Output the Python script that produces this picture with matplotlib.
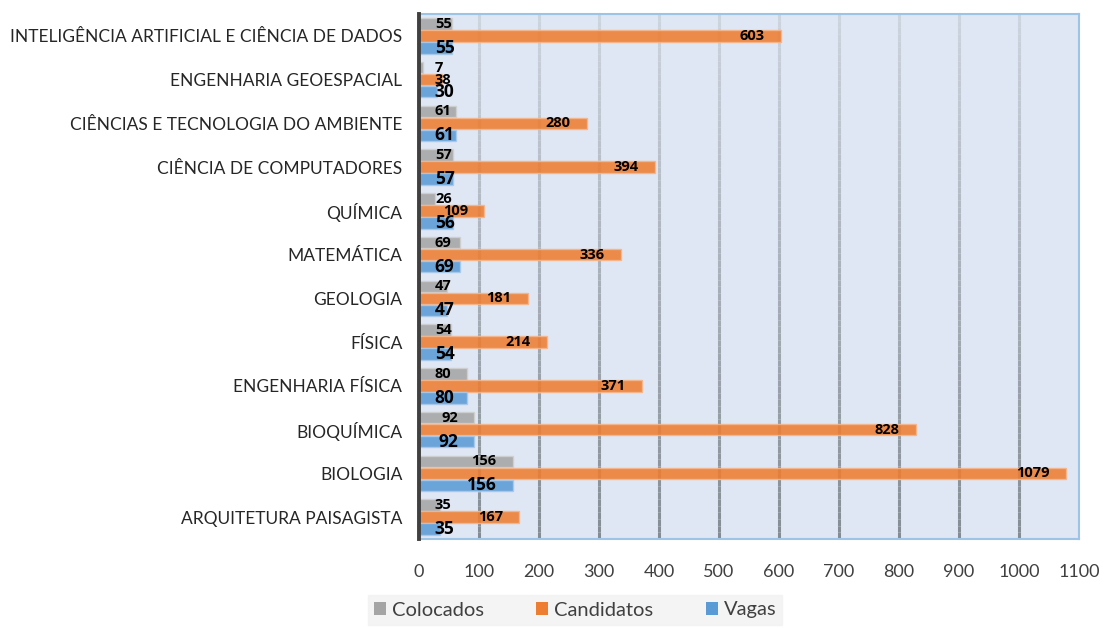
import numpy as np
import matplotlib
matplotlib.use("Agg")
import matplotlib.pyplot as plt
from matplotlib.collections import LineCollection
from matplotlib.patches import Patch

categories = [
    "INTELIGÊNCIA ARTIFICIAL E CIÊNCIA DE DADOS",
    "ENGENHARIA GEOESPACIAL",
    "CIÊNCIAS E TECNOLOGIA DO AMBIENTE",
    "CIÊNCIA DE COMPUTADORES",
    "QUÍMICA",
    "MATEMÁTICA",
    "GEOLOGIA",
    "FÍSICA",
    "ENGENHARIA FÍSICA",
    "BIOQUÍMICA",
    "BIOLOGIA",
    "ARQUITETURA PAISAGISTA",
]
colocados = [55, 7, 61, 57, 26, 69, 47, 54, 80, 92, 156, 35]
candidatos = [603, 38, 280, 394, 109, 336, 181, 214, 371, 828, 1079, 167]
vagas = [55, 30, 61, 57, 56, 69, 47, 54, 80, 92, 156, 35]
x_ticks = [0, 100, 200, 300, 400, 500, 600, 700, 800, 900, 1000, 1100]

FONT = ["Lato", "DejaVu Sans"]
plt.rcParams["font.family"] = FONT

W, H = 1105, 628
fig = plt.figure(figsize=(W / 100, H / 100), dpi=100)
ax = fig.add_axes([419 / W, 1 - 539 / H, 660 / W, 525 / H])
ax.set_facecolor("#dfe6f4")

n = len(categories)
y = np.arange(n)[::-1].astype(float)
bh = 0.26
off = 0.275

ax.set_xlim(0, 1100)
ax.set_ylim(-0.5, n - 0.5)

# gradient gridlines
for xv in x_ticks[1:-1]:
    ys = np.linspace(-0.5, n - 0.5, 80)
    segs = [[(xv, ys[i]), (xv, ys[i + 1])] for i in range(len(ys) - 1)]
    t = np.linspace(0, 1, len(segs))
    top = np.array([0.80, 0.83, 0.87])
    bot = np.array([0.52, 0.55, 0.58])
    cols = [tuple(bot + (top - bot) * ti) for ti in t]
    lc = LineCollection(segs, colors=cols, linewidths=2.2, zorder=1)
    ax.add_collection(lc)

series = [
    (colocados, y + off, "#a5a5a5", "#cfcfcf", "Colocados", 10.5),
    (candidatos, y, "#ed7d31", "#f6b58a", "Candidatos", 10.5),
    (vagas, y - off, "#5b9bd5", "#a9c9ea", "Vagas", 12.5),
]
for vals, ypos, col, ecol, lab, fs in series:
    ax.barh(ypos, vals, height=bh, color=col, alpha=0.88, edgecolor=ecol,
            linewidth=1.0, zorder=2, label=lab)
    dw = 15.5 if fs < 11 else 17.5
    for v, yy in zip(vals, ypos):
        s = str(v)
        hw = len(s) * dw / 2
        cx = max(v - 25 - hw, 25 + hw)
        ax.text(cx, yy, s, ha="center", va="center", fontsize=fs,
                fontweight="bold", color="black", zorder=4,
                family=["Open Sans", "DejaVu Sans"])

ax.set_yticks(y)
ax.set_yticklabels(categories, fontsize=12.5, color="#262626")
ax.set_xticks(x_ticks)
ax.set_xticklabels([str(t) for t in x_ticks], fontsize=13, color="#404040")
ax.tick_params(axis="y", length=0, pad=12)
ax.tick_params(axis="x", length=0, pad=18)

for s in ["top", "right", "bottom"]:
    ax.spines[s].set_color("#9dc3e6")
    ax.spines[s].set_linewidth(1.5)
ax.spines["left"].set_color("#404040")
ax.spines["left"].set_linewidth(2.8)
ax.spines["left"].set_zorder(5)

handles = [Patch(facecolor="#a5a5a5", label="Colocados"),
           Patch(facecolor="#ed7d31", label="Candidatos"),
           Patch(facecolor="#5b9bd5", label="Vagas")]
leg = fig.legend(handles=handles, loc="center", bbox_to_anchor=(575 / W, 1 - 610 / H),
                 ncol=3, frameon=True, fontsize=14.5, handlelength=0.6,
                 handleheight=0.6, handletextpad=0.3, columnspacing=2.6,
                 borderpad=0.3, fancybox=False)
leg.get_frame().set_facecolor("#f2f2f2")
leg.get_frame().set_edgecolor("#f2f2f2")
for t in leg.get_texts():
    t.set_color("#404040")

fig.savefig("out.png", dpi=100)
